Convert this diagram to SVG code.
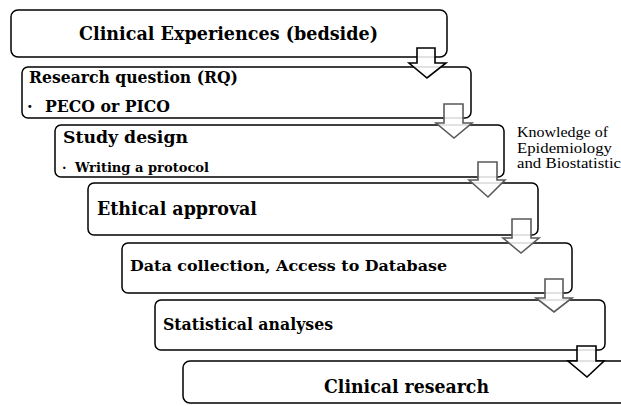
<svg xmlns="http://www.w3.org/2000/svg" width="621" height="406" viewBox="0 0 621 406">
  <style>
    .box { fill: #ffffff; stroke: #000000; stroke-width: 1.5; }
    .t { font-family: "DejaVu Serif", "Liberation Serif", serif; font-weight: bold; fill: #000000; }
    .note { font-family: "Liberation Serif", "DejaVu Serif", serif; font-size: 14px; fill: #000000; }
    .arrow { fill: #ffffff; fill-opacity: 0.85; stroke-width: 1.6; stroke-linejoin: miter; }
    .dark { stroke: #000000; }
    .grey { stroke: #5a5a5a; }
  </style>
  <rect width="621" height="406" fill="#ffffff"/>

  <g id="clinical-experiences">
    <rect class="box" x="11" y="10" width="436" height="47" rx="7"/>
    <text class="t" x="79" y="40" font-size="19" textLength="299" lengthAdjust="spacingAndGlyphs">Clinical Experiences (bedside)</text>
  </g>

  <g id="research-question">
    <rect class="box" x="22" y="67" width="449" height="51" rx="6"/>
    <text class="t" x="29" y="83" font-size="16" textLength="209" lengthAdjust="spacingAndGlyphs">Research question (RQ)</text>
    <text class="t" x="27" y="112" font-size="16">·</text>
    <text class="t" x="45" y="112" font-size="16" textLength="125" lengthAdjust="spacingAndGlyphs">PECO or PICO</text>
  </g>

  <g id="study-design">
    <rect class="box" x="55" y="125" width="449" height="52" rx="6"/>
    <text class="t" x="63" y="143" font-size="17" textLength="125" lengthAdjust="spacingAndGlyphs">Study design</text>
    <text class="t" x="62" y="172" font-size="13">·</text>
    <text class="t" x="75" y="172" font-size="12" textLength="134" lengthAdjust="spacingAndGlyphs">Writing a protocol</text>
  </g>

  <g id="ethical-approval">
    <rect class="box" x="88" y="183" width="450" height="52" rx="6"/>
    <text class="t" x="97" y="215" font-size="19" textLength="160" lengthAdjust="spacingAndGlyphs">Ethical approval</text>
  </g>

  <g id="data-collection">
    <rect class="box" x="122" y="243" width="450" height="50" rx="6"/>
    <text class="t" x="130" y="271" font-size="15" textLength="317" lengthAdjust="spacingAndGlyphs">Data collection, Access to Database</text>
  </g>

  <g id="statistical-analyses">
    <rect class="box" x="155" y="300" width="450" height="50" rx="6"/>
    <text class="t" x="163" y="330" font-size="16" textLength="170" lengthAdjust="spacingAndGlyphs">Statistical analyses</text>
  </g>

  <g id="clinical-research">
    <rect class="box" x="183" y="361" width="470" height="42" rx="7"/>
    <text class="t" x="324" y="393" font-size="19" textLength="165" lengthAdjust="spacingAndGlyphs">Clinical research</text>
  </g>

  <g id="knowledge-note">
    <text class="note" x="517" y="137" textLength="91" lengthAdjust="spacingAndGlyphs">Knowledge of</text>
    <text class="note" x="517" y="153" textLength="95" lengthAdjust="spacingAndGlyphs">Epidemiology</text>
    <text class="note" x="517" y="168" textLength="104" lengthAdjust="spacingAndGlyphs">and Biostatistic</text>
  </g>

  <!-- hollow block arrows between the steps -->
  <g id="connectors">
    <path class="arrow dark" d="M417,48 H435 V63 H446 L427,78 L409,63 H417 Z"/>
    <path class="arrow grey" d="M444,104 H463 V123 H472 L454,138 L436,123 H444 Z"/>
    <path class="arrow grey" d="M478,162 H497 V180 H505 L488,197 L469,180 H478 Z"/>
    <path class="arrow grey" d="M512,219 H531 V238 H539 L521,253 L503,238 H512 Z"/>
    <path class="arrow grey" d="M545,279 H563 V298 H572 L554,312 L536,298 H545 Z"/>
    <path class="arrow dark" d="M577,346 H596 V361 H604 L587,377 L568,361 H577 Z"/>
  </g>
</svg>
